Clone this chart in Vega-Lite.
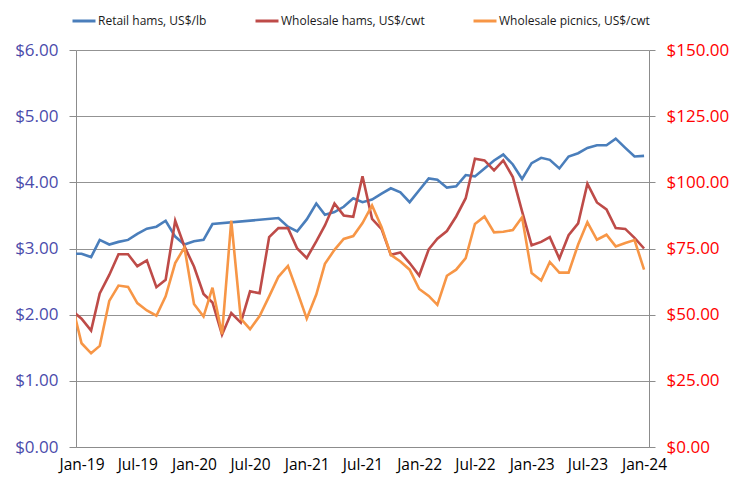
{
  "$schema": "https://vega.github.io/schema/vega-lite/v6.json",
  "width": 573,
  "height": 397,
  "autosize": {"type": "none"},
  "padding": {"left": 76, "top": 50, "right": 98, "bottom": 34},
  "background": "white",
  "config": {
    "view": {"stroke": null},
    "font": "Open Sans"
  },
  "datasets": {
    "retail": [
      {"date": "2018-12-01", "value": 2.92},
      {"date": "2019-01-01", "value": 2.92},
      {"date": "2019-02-01", "value": 2.87},
      {"date": "2019-03-01", "value": 3.13},
      {"date": "2019-04-01", "value": 3.06},
      {"date": "2019-05-01", "value": 3.10},
      {"date": "2019-06-01", "value": 3.13},
      {"date": "2019-07-01", "value": 3.22},
      {"date": "2019-08-01", "value": 3.30},
      {"date": "2019-09-01", "value": 3.33},
      {"date": "2019-10-01", "value": 3.42},
      {"date": "2019-11-01", "value": 3.18},
      {"date": "2019-12-01", "value": 3.06},
      {"date": "2020-01-01", "value": 3.11},
      {"date": "2020-02-01", "value": 3.13},
      {"date": "2020-03-01", "value": 3.37},
      {"date": "2020-10-01", "value": 3.46},
      {"date": "2020-11-01", "value": 3.33},
      {"date": "2020-12-01", "value": 3.26},
      {"date": "2021-01-01", "value": 3.44},
      {"date": "2021-02-01", "value": 3.68},
      {"date": "2021-03-01", "value": 3.51},
      {"date": "2021-04-01", "value": 3.55},
      {"date": "2021-05-01", "value": 3.63},
      {"date": "2021-06-01", "value": 3.76},
      {"date": "2021-07-01", "value": 3.70},
      {"date": "2021-08-01", "value": 3.74},
      {"date": "2021-09-01", "value": 3.83},
      {"date": "2021-10-01", "value": 3.91},
      {"date": "2021-11-01", "value": 3.85},
      {"date": "2021-12-01", "value": 3.70},
      {"date": "2022-01-01", "value": 3.88},
      {"date": "2022-02-01", "value": 4.06},
      {"date": "2022-03-01", "value": 4.04},
      {"date": "2022-04-01", "value": 3.92},
      {"date": "2022-05-01", "value": 3.94},
      {"date": "2022-06-01", "value": 4.11},
      {"date": "2022-07-01", "value": 4.09},
      {"date": "2022-08-01", "value": 4.21},
      {"date": "2022-09-01", "value": 4.33},
      {"date": "2022-10-01", "value": 4.42},
      {"date": "2022-11-01", "value": 4.27},
      {"date": "2022-12-01", "value": 4.05},
      {"date": "2023-01-01", "value": 4.29},
      {"date": "2023-02-01", "value": 4.37},
      {"date": "2023-03-01", "value": 4.34},
      {"date": "2023-04-01", "value": 4.21},
      {"date": "2023-05-01", "value": 4.39},
      {"date": "2023-06-01", "value": 4.44},
      {"date": "2023-07-01", "value": 4.52},
      {"date": "2023-08-01", "value": 4.56},
      {"date": "2023-09-01", "value": 4.56},
      {"date": "2023-10-01", "value": 4.66},
      {"date": "2023-11-01", "value": 4.52},
      {"date": "2023-12-01", "value": 4.39},
      {"date": "2024-01-01", "value": 4.40}
    ],
    "hams": [
      {"date": "2018-12-01", "value": 51.5},
      {"date": "2019-01-01", "value": 48.5},
      {"date": "2019-02-01", "value": 44.0},
      {"date": "2019-03-01", "value": 58.0},
      {"date": "2019-04-01", "value": 65.0},
      {"date": "2019-05-01", "value": 72.8},
      {"date": "2019-06-01", "value": 72.8},
      {"date": "2019-07-01", "value": 68.3},
      {"date": "2019-08-01", "value": 70.5},
      {"date": "2019-09-01", "value": 60.4},
      {"date": "2019-10-01", "value": 63.2},
      {"date": "2019-11-01", "value": 85.5},
      {"date": "2019-12-01", "value": 75.8},
      {"date": "2020-01-01", "value": 68.2},
      {"date": "2020-02-01", "value": 57.8},
      {"date": "2020-03-01", "value": 54.6},
      {"date": "2020-04-01", "value": 42.4},
      {"date": "2020-05-01", "value": 50.6},
      {"date": "2020-06-01", "value": 47.0},
      {"date": "2020-07-01", "value": 58.8},
      {"date": "2020-08-01", "value": 58.1},
      {"date": "2020-09-01", "value": 79.3},
      {"date": "2020-10-01", "value": 82.7},
      {"date": "2020-11-01", "value": 82.7},
      {"date": "2020-12-01", "value": 75.0},
      {"date": "2021-01-01", "value": 71.4},
      {"date": "2021-02-01", "value": 77.7},
      {"date": "2021-03-01", "value": 83.7},
      {"date": "2021-04-01", "value": 92.0},
      {"date": "2021-05-01", "value": 87.5},
      {"date": "2021-06-01", "value": 87.0},
      {"date": "2021-07-01", "value": 102.3},
      {"date": "2021-08-01", "value": 86.2},
      {"date": "2021-09-01", "value": 82.3},
      {"date": "2021-10-01", "value": 72.6},
      {"date": "2021-11-01", "value": 73.5},
      {"date": "2021-12-01", "value": 69.5},
      {"date": "2022-01-01", "value": 64.8},
      {"date": "2022-02-01", "value": 74.7},
      {"date": "2022-03-01", "value": 78.7},
      {"date": "2022-04-01", "value": 81.6},
      {"date": "2022-05-01", "value": 87.1},
      {"date": "2022-06-01", "value": 94.0},
      {"date": "2022-07-01", "value": 108.9},
      {"date": "2022-08-01", "value": 108.3},
      {"date": "2022-09-01", "value": 104.5},
      {"date": "2022-10-01", "value": 108.3},
      {"date": "2022-11-01", "value": 102.0},
      {"date": "2022-12-01", "value": 89.0},
      {"date": "2023-01-01", "value": 76.2},
      {"date": "2023-02-01", "value": 77.5},
      {"date": "2023-03-01", "value": 79.3},
      {"date": "2023-04-01", "value": 71.2},
      {"date": "2023-05-01", "value": 80.0},
      {"date": "2023-06-01", "value": 84.5},
      {"date": "2023-07-01", "value": 99.5},
      {"date": "2023-08-01", "value": 92.4},
      {"date": "2023-09-01", "value": 89.8},
      {"date": "2023-10-01", "value": 82.7},
      {"date": "2023-11-01", "value": 82.4},
      {"date": "2023-12-01", "value": 79.0},
      {"date": "2024-01-01", "value": 75.0}
    ],
    "picnics": [
      {"date": "2018-12-01", "value": 54.0},
      {"date": "2019-01-01", "value": 39.2},
      {"date": "2019-02-01", "value": 35.4},
      {"date": "2019-03-01", "value": 38.2},
      {"date": "2019-04-01", "value": 55.2},
      {"date": "2019-05-01", "value": 61.0},
      {"date": "2019-06-01", "value": 60.5},
      {"date": "2019-07-01", "value": 54.4},
      {"date": "2019-08-01", "value": 51.6},
      {"date": "2019-09-01", "value": 49.6},
      {"date": "2019-10-01", "value": 56.9},
      {"date": "2019-11-01", "value": 69.5},
      {"date": "2019-12-01", "value": 75.4},
      {"date": "2020-01-01", "value": 54.0},
      {"date": "2020-02-01", "value": 49.3},
      {"date": "2020-03-01", "value": 60.2},
      {"date": "2020-04-01", "value": 42.6},
      {"date": "2020-05-01", "value": 85.5},
      {"date": "2020-06-01", "value": 48.5},
      {"date": "2020-07-01", "value": 44.5},
      {"date": "2020-08-01", "value": 49.5},
      {"date": "2020-09-01", "value": 56.9},
      {"date": "2020-10-01", "value": 64.3},
      {"date": "2020-11-01", "value": 68.4},
      {"date": "2020-12-01", "value": 58.8},
      {"date": "2021-01-01", "value": 48.5},
      {"date": "2021-02-01", "value": 57.6},
      {"date": "2021-03-01", "value": 69.2},
      {"date": "2021-04-01", "value": 74.5},
      {"date": "2021-05-01", "value": 78.6},
      {"date": "2021-06-01", "value": 79.7},
      {"date": "2021-07-01", "value": 84.6},
      {"date": "2021-08-01", "value": 91.3},
      {"date": "2021-09-01", "value": 83.0},
      {"date": "2021-10-01", "value": 72.6},
      {"date": "2021-11-01", "value": 70.1},
      {"date": "2021-12-01", "value": 67.0},
      {"date": "2022-01-01", "value": 59.7},
      {"date": "2022-02-01", "value": 57.1},
      {"date": "2022-03-01", "value": 53.7},
      {"date": "2022-04-01", "value": 64.7},
      {"date": "2022-05-01", "value": 67.0},
      {"date": "2022-06-01", "value": 71.4},
      {"date": "2022-07-01", "value": 84.3},
      {"date": "2022-08-01", "value": 87.1},
      {"date": "2022-09-01", "value": 81.1},
      {"date": "2022-10-01", "value": 81.3},
      {"date": "2022-11-01", "value": 82.0},
      {"date": "2022-12-01", "value": 86.8},
      {"date": "2023-01-01", "value": 65.7},
      {"date": "2023-02-01", "value": 62.9},
      {"date": "2023-03-01", "value": 69.9},
      {"date": "2023-04-01", "value": 65.9},
      {"date": "2023-05-01", "value": 65.9},
      {"date": "2023-06-01", "value": 76.5},
      {"date": "2023-07-01", "value": 84.9},
      {"date": "2023-08-01", "value": 78.3},
      {"date": "2023-09-01", "value": 80.2},
      {"date": "2023-10-01", "value": 75.8},
      {"date": "2023-11-01", "value": 77.1},
      {"date": "2023-12-01", "value": 78.2},
      {"date": "2024-01-01", "value": 67.0}
    ]
  },
  "layer": [
    {
      "data": {"name": "retail"},
      "mark": {"type": "line", "strokeWidth": 2.6, "clip": true},
      "encoding": {
        "x": {
          "field": "date", "type": "temporal",
          "scale": {"type": "utc", "domain": [{"year": 2018, "month": 12, "date": 14, "utc": true}, {"year": 2024, "month": 1, "date": 17, "utc": true}]},
          "axis": {
            "title": null,
            "values": [
              {"year": 2019, "month": 1, "date": 1, "utc": true},
              {"year": 2019, "month": 7, "date": 1, "utc": true},
              {"year": 2020, "month": 1, "date": 1, "utc": true},
              {"year": 2020, "month": 7, "date": 1, "utc": true},
              {"year": 2021, "month": 1, "date": 1, "utc": true},
              {"year": 2021, "month": 7, "date": 1, "utc": true},
              {"year": 2022, "month": 1, "date": 1, "utc": true},
              {"year": 2022, "month": 7, "date": 1, "utc": true},
              {"year": 2023, "month": 1, "date": 1, "utc": true},
              {"year": 2023, "month": 7, "date": 1, "utc": true},
              {"year": 2024, "month": 1, "date": 1, "utc": true}
            ],
            "format": "%b-%y",
            "labelFont": "Open Sans",
            "labelFontSize": 15.5,
            "labelColor": "#000000",
            "labelOverlap": false,
            "labelPadding": 10,
            "ticks": false,
            "grid": false,
            "domainColor": "#8c8c8c",
            "domainWidth": 1
          }
        },
        "y": {
          "field": "value", "type": "quantitative",
          "scale": {"domain": [0, 6], "nice": false, "zero": true},
          "axis": {
            "title": null,
            "orient": "left",
            "values": [0, 1, 2, 3, 4, 5, 6],
            "format": "$.2f",
            "labelFont": "Open Sans",
            "labelFontSize": 17,
            "labelColor": "#4b4bab",
            "labelPadding": 11,
            "tickSize": 7,
            "tickColor": "#8c8c8c",
            "domainColor": "#8c8c8c",
            "grid": true,
            "gridColor": "#939393",
            "gridWidth": 1
          }
        },
        "color": {
          "datum": "Retail hams, US$/lb",
          "type": "nominal",
          "scale": {
            "domain": ["Retail hams, US$/lb", "Wholesale hams, US$/cwt", "Wholesale picnics, US$/cwt"],
            "range": ["#4a7ebb", "#be4b48", "#f79646"]
          },
          "legend": {
            "title": null,
            "orient": "none",
            "direction": "horizontal",
            "legendX": -5,
            "legendY": -42,
            "padding": 0,
            "symbolType": "stroke",
            "symbolSize": 529,
            "symbolStrokeWidth": 3,
            "labelFont": "Open Sans",
            "labelFontSize": 12,
            "labelColor": "#1a1a1a",
            "labelOffset": 1,
            "columnPadding": 42,
            "labelLimit": 300
          }
        }
      }
    },
    {
      "layer": [
        {
          "data": {"name": "hams"},
          "mark": {"type": "line", "strokeWidth": 2.6, "clip": true},
          "encoding": {
            "x": {
              "field": "date", "type": "temporal",
              "scale": {"type": "utc", "domain": [{"year": 2018, "month": 12, "date": 14, "utc": true}, {"year": 2024, "month": 1, "date": 17, "utc": true}]}
            },
            "y": {
              "field": "value", "type": "quantitative",
              "scale": {"domain": [0, 150], "nice": false},
              "axis": {
                "title": null,
                "orient": "right",
                "values": [0, 25, 50, 75, 100, 125, 150],
                "format": "$.2f",
                "labelFont": "Open Sans",
                "labelFontSize": 17,
                "labelColor": "#ff0000",
                "labelPadding": 11,
                "tickSize": 6,
                "tickColor": "#8c8c8c",
                "domainColor": "#8c8c8c",
                "grid": false
              }
            },
            "color": {"datum": "Wholesale hams, US$/cwt", "type": "nominal"}
          }
        },
        {
          "data": {"name": "picnics"},
          "mark": {"type": "line", "strokeWidth": 2.6, "clip": true},
          "encoding": {
            "x": {
              "field": "date", "type": "temporal",
              "scale": {"type": "utc", "domain": [{"year": 2018, "month": 12, "date": 14, "utc": true}, {"year": 2024, "month": 1, "date": 17, "utc": true}]}
            },
            "y": {"field": "value", "type": "quantitative"},
            "color": {"datum": "Wholesale picnics, US$/cwt", "type": "nominal"}
          }
        }
      ]
    }
  ],
  "resolve": {"scale": {"y": "independent"}, "axis": {"y": "independent"}}
}
